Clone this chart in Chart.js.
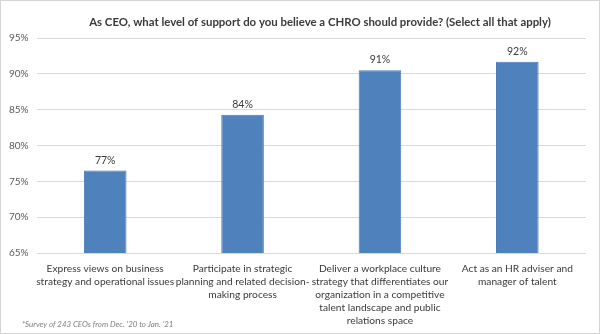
<!DOCTYPE html>
<html>
<head>
<meta charset="utf-8">
<script src="https://cdn.jsdelivr.net/npm/chart.js@4"></script>
<style>
  html, body { margin: 0; padding: 0; background: #fff; }
  #wrap { width: 600px; height: 334px; box-sizing: border-box; border: 1px solid #d4d4d4; }
  canvas { display: block; }
</style>
</head>
<body>
<div id="wrap"><canvas id="chart" width="598" height="332"></canvas></div>
<script>
  // 選択肢（カテゴリ）
  const categories = [
    ['Express views on business', 'strategy and operational issues'],
    ['Participate in strategic', 'planning and related decision-', 'making process'],
    ['Deliver a workplace culture', 'strategy that differentiates our', 'organization in a competitive', 'talent landscape and public', 'relations space'],
    ['Act as an HR adviser and', 'manager of talent']
  ];
  // 回答率 (%)
  const supportValues = [76.5, 84.3, 90.5, 91.7];
  const yTicks = [65, 70, 75, 80, 85, 90, 95];

  const titleText = 'As CEO, what level of support do you believe a CHRO should provide? (Select all that apply)';
  const noteText = "*Survey of 243 CEOs from Dec. '20 to Jan. '21";

  const FONT = 'Lato, "Open Sans", sans-serif';

  // タイトル・注記・データラベル
  const decorations = {
    id: 'decorations',
    afterDatasetsDraw(chart) {
      const ctx = chart.ctx;
      const meta = chart.getDatasetMeta(0);
      ctx.save();
      ctx.fillStyle = '#3a3a3a';
      ctx.font = '10.5px ' + FONT;
      ctx.textAlign = 'center';
      ctx.textBaseline = 'bottom';
      meta.data.forEach((bar, i) => {
        ctx.fillText(Math.round(supportValues[i]) + '%', bar.x, bar.y - 5);
      });
      ctx.restore();
    },
    afterDraw(chart) {
      const ctx = chart.ctx;
      ctx.save();
      ctx.fillStyle = '#3a3a3a';
      ctx.font = 'bold 11.4px ' + FONT;
      ctx.textAlign = 'center';
      ctx.textBaseline = 'middle';
      ctx.fillText(titleText, 319, 21);
      ctx.fillStyle = '#7f7f7f';
      ctx.font = 'italic 7.9px ' + FONT;
      ctx.textAlign = 'left';
      ctx.fillText(noteText, 21, 323);
      ctx.restore();
    }
  };

  new Chart(document.getElementById('chart'), {
    type: 'bar',
    data: {
      labels: categories,
      datasets: [{
        data: supportValues,
        backgroundColor: '#4f81bd',
        borderColor: '#4a7ab6',
        borderWidth: 1,
        barPercentage: 0.31,
        categoryPercentage: 1.0
      }]
    },
    options: {
      responsive: false,
      animation: false,
      layout: { padding: { top: 37, right: 13, left: 0, bottom: 0 } },
      plugins: {
        legend: { display: false },
        tooltip: { enabled: false },
        title: { display: false }
      },
      scales: {
        x: {
          grid: { display: false },
          border: { display: false },
          ticks: {
            color: '#3a3a3a',
            font: { family: FONT, size: 10.2, lineHeight: 1.28 },
            padding: 1,
            maxRotation: 0,
            autoSkip: false
          },
          afterFit: (scale) => { scale.height = 80; }
        },
        y: {
          min: 65,
          max: 95,
          afterBuildTicks: (scale) => { scale.ticks = yTicks.map(v => ({ value: v })); },
          grid: { color: '#d9d9d9', drawTicks: false },
          border: { display: false },
          ticks: {
            color: '#595959',
            font: { family: FONT, size: 10 },
            padding: 8,
            callback: (v) => v + '%'
          },
          afterFit: (scale) => { scale.width = 35.5; }
        }
      }
    },
    plugins: [decorations]
  });
</script>
</body>
</html>
